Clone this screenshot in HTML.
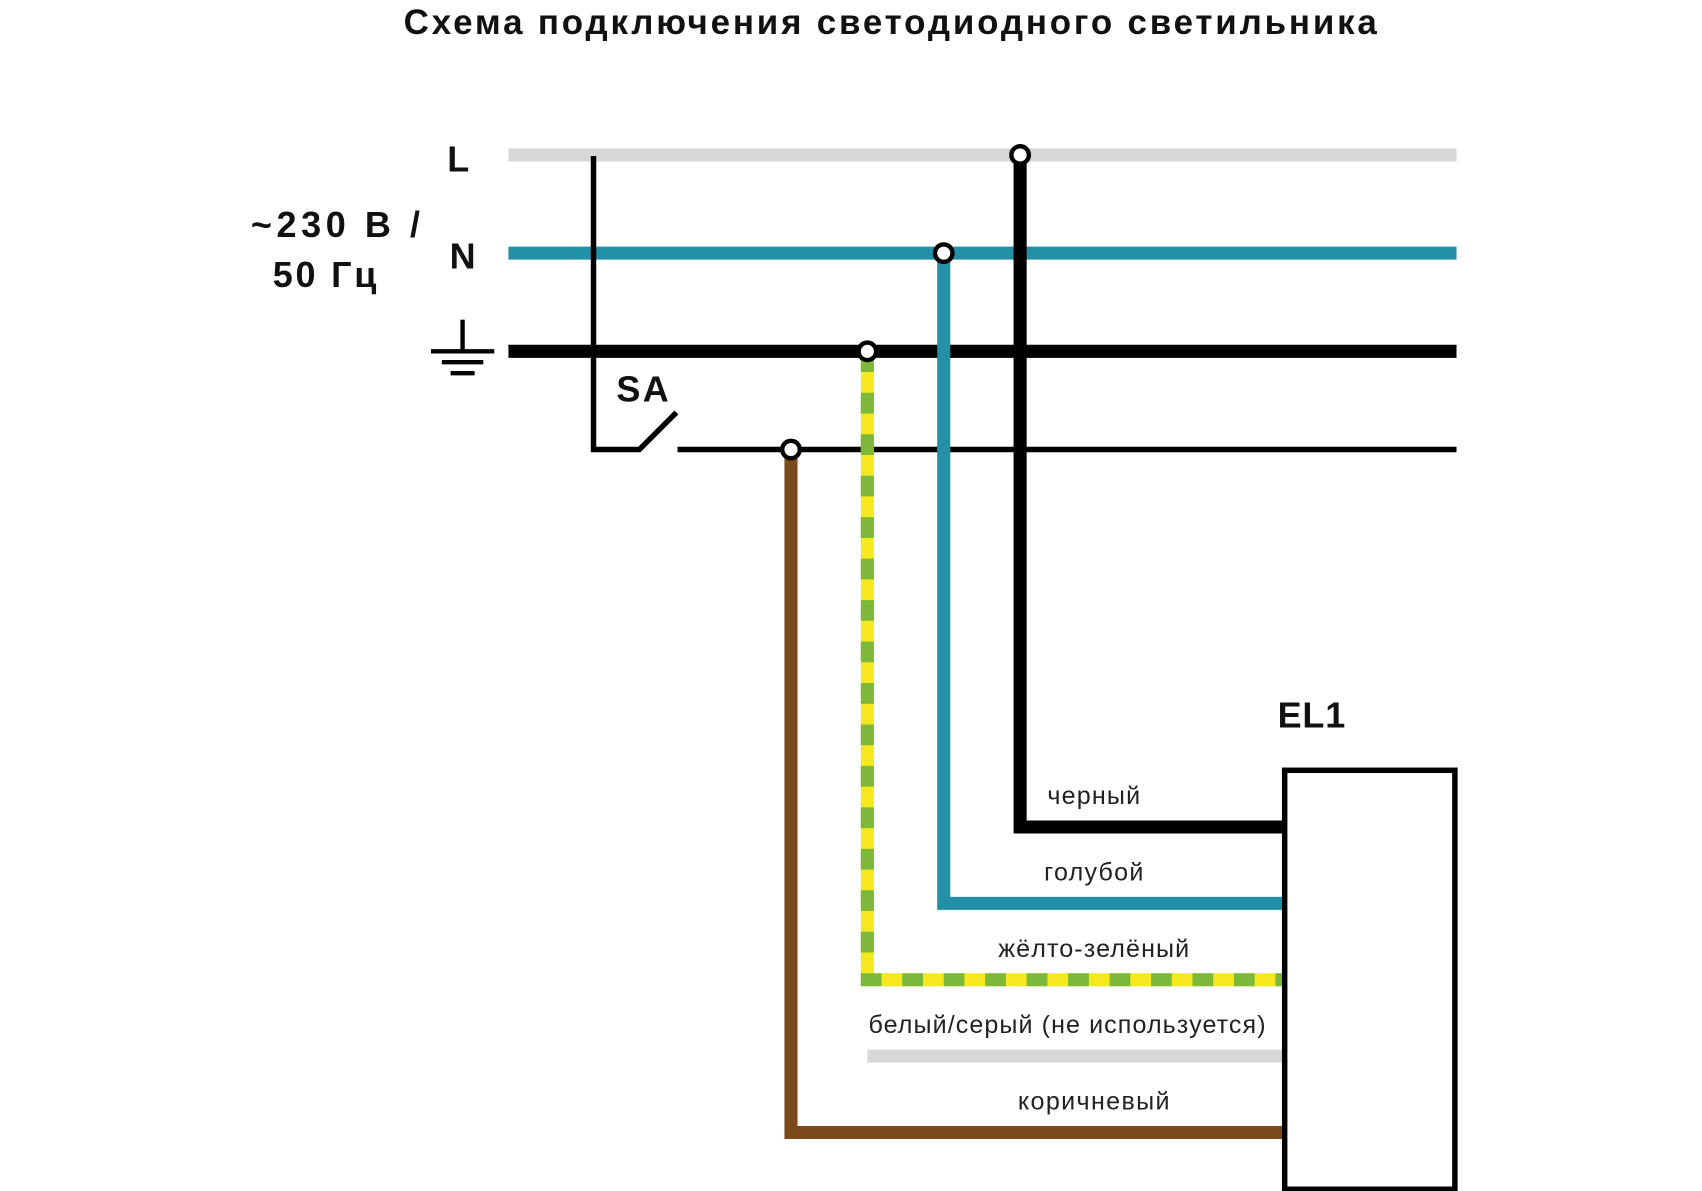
<!DOCTYPE html>
<html><head><meta charset="utf-8"><style>html,body{margin:0;padding:0;background:#fff}svg{display:block}</style></head>
<body>
<svg width="1702" height="1191" viewBox="0 0 1560 1091.6" xmlns="http://www.w3.org/2000/svg" font-family="'Liberation Sans','DejaVu Sans',sans-serif">
<text x="370" y="31" textLength="892" lengthAdjust="spacing" font-size="32" font-weight="bold" fill="#111">Схема подключения светодиодного светильника</text>
<line x1="466" y1="142" x2="1335" y2="142" stroke="#d7d7d7" stroke-width="12"/>
<line x1="466" y1="232" x2="1335" y2="232" stroke="#2290a6" stroke-width="12"/>
<line x1="466" y1="322" x2="1335" y2="322" stroke="#000" stroke-width="12"/>
<line x1="621" y1="412" x2="1335" y2="412" stroke="#000" stroke-width="5"/>
<polyline points="544,143 544,412 586,412 620,378" fill="none" stroke="#000" stroke-width="5"/>
<line x1="424" y1="293" x2="424" y2="322" stroke="#000" stroke-width="4"/>
<line x1="395" y1="322" x2="453" y2="322" stroke="#000" stroke-width="4"/>
<line x1="405" y1="332" x2="443" y2="332" stroke="#000" stroke-width="4"/>
<line x1="413" y1="342" x2="435" y2="342" stroke="#000" stroke-width="4"/>
<g font-weight="bold" font-size="33" fill="#111">
<text x="420" y="157" text-anchor="middle">L</text>
<text x="424" y="246" text-anchor="middle">N</text>
<text x="230" y="217" textLength="155" lengthAdjust="spacing">~230 В /</text>
<text x="250" y="263" textLength="95" lengthAdjust="spacing">50 Гц</text>
<text x="565" y="368" textLength="48" lengthAdjust="spacing">SA</text>
<text x="1171" y="667" textLength="62" lengthAdjust="spacing">EL1</text>
</g>
<polyline points="725,412 725,1038 1175,1038" fill="none" stroke="#7b4a1a" stroke-width="12"/>
<polyline points="795,322 795,898 1175,898" fill="none" stroke="#f5e81e" stroke-width="12"/>
<polyline points="795,322 795,898 1175,898" fill="none" stroke="#7cb83a" stroke-width="12" stroke-dasharray="19 19"/>
<polyline points="865,232 865,828 1175,828" fill="none" stroke="#2290a6" stroke-width="12"/>
<polyline points="935,142 935,758 1175,758" fill="none" stroke="#000" stroke-width="12"/>
<line x1="795" y1="968" x2="1175" y2="968" stroke="#d7d7d7" stroke-width="12"/>
<rect x="1177.5" y="706" width="156" height="384" fill="#fff" stroke="#000" stroke-width="5"/>
<g fill="#fff" stroke="#000" stroke-width="4">
<circle cx="935" cy="142" r="8"/><circle cx="865" cy="232" r="8"/><circle cx="795" cy="322" r="8"/><circle cx="725" cy="412" r="8"/>
</g>
<g font-size="23" fill="#222">
<text x="960" y="737" textLength="85" lengthAdjust="spacing">черный</text>
<text x="957" y="807" textLength="91" lengthAdjust="spacing">голубой</text>
<text x="915" y="877" textLength="175" lengthAdjust="spacing">жёлто-зелёный</text>
<text x="796" y="947" textLength="364" lengthAdjust="spacing">белый/серый (не используется)</text>
<text x="933" y="1017" textLength="139" lengthAdjust="spacing">коричневый</text>
</g>
</svg>
</body></html>
